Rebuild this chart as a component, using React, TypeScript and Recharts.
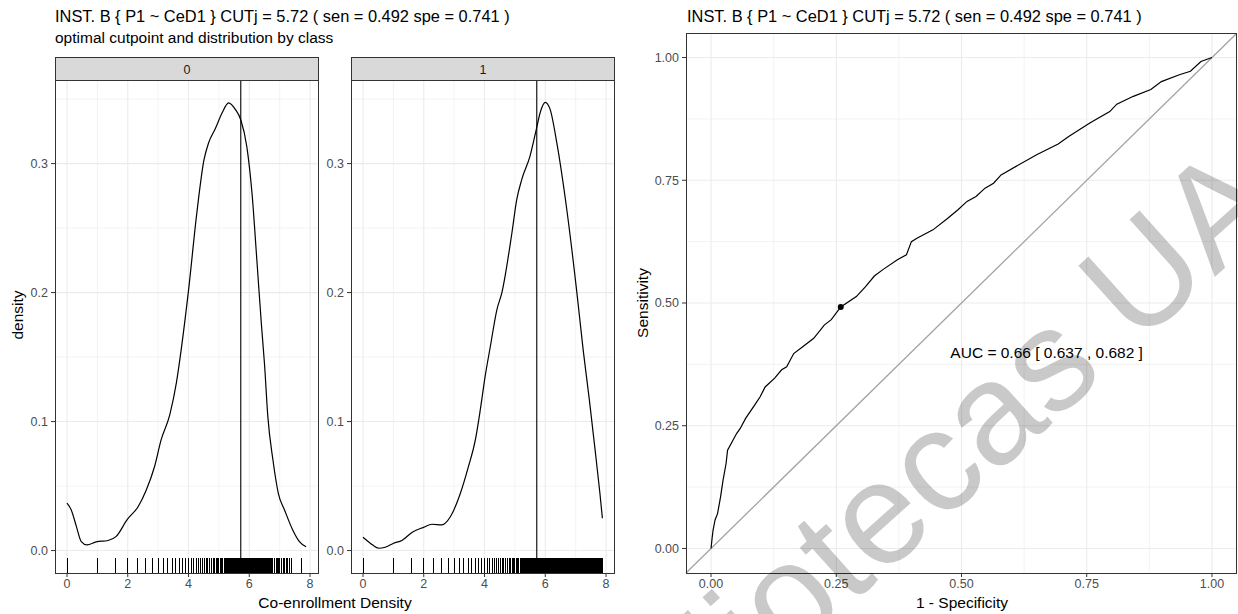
import React from 'react';
import { ComposedChart, Line, XAxis, YAxis, ReferenceLine, Scatter } from 'recharts';

const titleText = 'INST. B { P1 ~ CeD1 } CUTj = 5.72 ( sen = 0.492 spe = 0.741 )';
const subtitleText = 'optimal cutpoint and distribution by class';
const densityXTitle = 'Co-enrollment Density';
const densityYTitle = 'density';
const rocXTitle = '1 - Specificity';
const rocYTitle = 'Sensitivity';
const classLabels = ['0', '1'];
const cutpoint = 5.72;
const watermarkText = 'Bibliotecas UAC';

const densityXTicks = [0, 2, 4, 6, 8];
const densityXMinor = [1, 3, 5, 7];
const densityYTicks = [0, 0.1, 0.2, 0.3];
const densityYMinor = [0.05, 0.15, 0.25, 0.35];

// class 0 density curve
const dens0X = [0, 0.14, 0.31, 0.47, 0.66, 0.96, 1.35, 1.62, 1.98, 2.34, 2.61, 2.88, 3.1, 3.38, 3.6, 3.76, 4.0, 4.27, 4.51, 4.66, 4.88, 5.1, 5.32, 5.54, 5.72, 5.92, 6.09, 6.25, 6.4, 6.5, 6.61, 6.78, 6.96, 7.16, 7.43, 7.65, 7.87];
const dens0Y = [0.0367, 0.0315, 0.0186, 0.007, 0.0044, 0.0067, 0.0078, 0.011, 0.024, 0.034, 0.047, 0.065, 0.086, 0.105, 0.13, 0.156, 0.2017, 0.261, 0.303, 0.316, 0.327, 0.339, 0.347, 0.342, 0.334, 0.313, 0.277, 0.225, 0.175, 0.145, 0.104, 0.07, 0.044, 0.0315, 0.016, 0.007, 0.003];

// class 1 density curve
const dens1X = [0, 0.24, 0.52, 0.73, 1.01, 1.28, 1.61, 1.99, 2.27, 2.6, 2.87, 3.2, 3.47, 3.7, 3.86, 4.02, 4.19, 4.41, 4.57, 4.9, 5.06, 5.23, 5.5, 5.7, 5.85, 6.0, 6.16, 6.38, 6.71, 7.04, 7.25, 7.45, 7.64, 7.8, 7.88];
const dens1Y = [0.0103, 0.0057, 0.0018, 0.0026, 0.0057, 0.0078, 0.014, 0.018, 0.0204, 0.0199, 0.026, 0.044, 0.065, 0.086, 0.109, 0.135, 0.158, 0.187, 0.1998, 0.246, 0.272, 0.288, 0.306, 0.326, 0.341, 0.3475, 0.342, 0.316, 0.264, 0.2, 0.155, 0.117, 0.078, 0.044, 0.025];

// observed values (rug) shared by both classes up to ~6.6
const rugCommon = [0, 1, 1.58, 2, 2.32, 2.58, 2.81, 3, 3.17, 3.32, 3.46, 3.58, 3.7, 3.81, 3.91, 4, 4.09, 4.17, 4.25, 4.32, 4.39, 4.46, 4.52, 4.58, 4.64, 4.7, 4.75, 4.81, 4.86, 4.91, 4.95, 5, 5.04, 5.09, 5.13, 5.17, 5.21, 5.25, 5.29, 5.32, 5.36, 5.39, 5.43, 5.46, 5.49, 5.52, 5.55, 5.58, 5.61, 5.64, 5.67, 5.7, 5.73, 5.75, 5.78, 5.81, 5.83, 5.86, 5.88, 5.91, 5.93, 5.95, 5.98, 6, 6.02, 6.04, 6.07, 6.09, 6.11, 6.13, 6.15, 6.17, 6.19, 6.21, 6.23, 6.25, 6.27, 6.29, 6.3, 6.32, 6.34, 6.36, 6.38, 6.39, 6.41, 6.43, 6.44, 6.46, 6.48, 6.49, 6.51, 6.52, 6.54, 6.55, 6.57, 6.58, 6.6];
const rugTail0 = [6.63, 6.66, 6.7, 6.74, 6.78, 6.83, 6.88, 6.92, 6.97, 7.01, 7.05, 7.12, 7.16, 7.21, 7.27, 7.32, 7.38, 7.71];
const rugTail1 = [6.63, 6.66, 6.69, 6.72, 6.75, 6.78, 6.81, 6.84, 6.87, 6.9, 6.93, 6.95, 6.98, 7.01, 7.04, 7.07, 7.09, 7.12, 7.14, 7.17, 7.2, 7.22, 7.25, 7.27, 7.3, 7.32, 7.34, 7.37, 7.39, 7.41, 7.44, 7.46, 7.48, 7.5, 7.52, 7.55, 7.57, 7.59, 7.61, 7.63, 7.65, 7.67, 7.69, 7.71, 7.73, 7.75, 7.77, 7.79, 7.81, 7.83, 7.85, 7.88];

// ROC curve
const rocFpr = [0, 0.002, 0.004, 0.008, 0.013, 0.019, 0.024, 0.03, 0.033, 0.044, 0.051, 0.058, 0.069, 0.087, 0.098, 0.108, 0.127, 0.141, 0.151, 0.165, 0.183, 0.205, 0.226, 0.24, 0.259, 0.29, 0.308, 0.326, 0.343, 0.372, 0.39, 0.4, 0.411, 0.443, 0.472, 0.493, 0.511, 0.529, 0.547, 0.564, 0.579, 0.65, 0.693, 0.714, 0.757, 0.796, 0.81, 0.843, 0.878, 0.899, 0.935, 0.957, 0.978, 1.0];
const rocTpr = [0, 0.02, 0.037, 0.058, 0.071, 0.105, 0.139, 0.173, 0.2, 0.221, 0.234, 0.244, 0.265, 0.292, 0.309, 0.329, 0.347, 0.364, 0.37, 0.397, 0.411, 0.428, 0.455, 0.466, 0.492, 0.513, 0.533, 0.555, 0.568, 0.588, 0.598, 0.625, 0.632, 0.649, 0.672, 0.69, 0.707, 0.717, 0.734, 0.744, 0.761, 0.802, 0.824, 0.839, 0.867, 0.89, 0.905, 0.921, 0.935, 0.951, 0.965, 0.972, 0.992, 1.0];
const rocTicks = [0, 0.25, 0.5, 0.75, 1];
const rocMinor = [0.125, 0.375, 0.625, 0.875];
const cutFpr = 0.259;
const cutSen = 0.492;
const aucText = 'AUC = 0.66 [ 0.637 , 0.682 ]';
const aucX = 0.67;
const aucY = 0.4;

const FONT = '"Liberation Sans", Arial, Helvetica, sans-serif';
const DX: [number, number] = [-0.395, 8.295];
const DY: [number, number] = [-0.0174, 0.3648];
const RX: [number, number] = [-0.05, 1.05];
const GRID = '#EBEBEB';
const TICKC = '#4D4D4D';
const TICKFS = 12.5;

const RugTick = (p: any) => (
  <line x1={p.cx} x2={p.cx} y1={p.cy} y2={p.cy - 15} stroke="#000" strokeWidth={1} shapeRendering="crispEdges" />
);

const Dot = (p: any) => <circle cx={p.cx} cy={p.cy} r={3} fill="#000" />;

const AucLabel = (p: any) => (
  <text x={p.cx} y={p.cy} textAnchor="middle" dominantBaseline="central" fontSize={15.5} fill="#000" fontFamily={FONT}>
    {aucText}
  </text>
);

function DensityPanel({ xs, ys, rug, left, yw }: { xs: number[]; ys: number[]; rug: number[]; left: number; yw: number }) {
  const data = xs.map((x, i) => ({ x, y: ys[i] }));
  const rugData = rug.map((x) => ({ x, y: DY[0] }));
  return (
    <div style={{ position: 'absolute', left, top: 80 }}>
      <ComposedChart width={yw + 264} height={493 + 41} margin={{ top: 0, right: 0, bottom: 0, left: 0 }}>
        <XAxis type="number" dataKey="x" domain={DX} ticks={densityXTicks} allowDataOverflow height={41} axisLine={false}
          tickLine={{ stroke: '#333333' }} tickSize={4} tickMargin={2} tick={{ fill: TICKC, fontSize: TICKFS }} interval={0} />
        <YAxis type="number" dataKey="y" domain={DY} ticks={densityYTicks} allowDataOverflow width={yw} axisLine={false}
          tickLine={{ stroke: '#333333' }} tickSize={4} tickMargin={3} tick={{ fill: TICKC, fontSize: TICKFS }} interval={0}
          tickFormatter={(v: number) => v.toFixed(1)} />
        {densityXMinor.map((v) => <ReferenceLine key={'xm' + v} x={v} stroke={GRID} strokeWidth={0.6} />)}
        {densityYMinor.map((v) => <ReferenceLine key={'ym' + v} y={v} stroke={GRID} strokeWidth={0.6} />)}
        {densityXTicks.map((v) => <ReferenceLine key={'xM' + v} x={v} stroke={GRID} strokeWidth={1.1} />)}
        {densityYTicks.map((v) => <ReferenceLine key={'yM' + v} y={v} stroke={GRID} strokeWidth={1.1} />)}
        <Line data={data} dataKey="y" type="monotone" dot={false} stroke="#000" strokeWidth={1.2} isAnimationActive={false} />
        <Scatter data={rugData} dataKey="y" shape={RugTick} isAnimationActive={false} />
        <ReferenceLine x={cutpoint} stroke="#000" strokeWidth={1.1} />
      </ComposedChart>
    </div>
  );
}

function Box({ left, top, width, height, bg }: { left: number; top: number; width: number; height: number; bg?: string }) {
  return (
    <div style={{ position: 'absolute', left, top, width, height, boxSizing: 'border-box', border: '1px solid #333333', background: bg || 'transparent', pointerEvents: 'none' }} />
  );
}

export default function App() {
  const rocData = rocFpr.map((x, i) => ({ x, y: rocTpr[i] }));
  return (
    <div style={{ position: 'absolute', left: 0, top: 0, width: 1238, height: 614, background: '#fff', fontFamily: FONT, overflow: 'hidden' }}>
      <DensityPanel xs={dens0X} ys={dens0Y} rug={[...rugCommon, ...rugTail0]} left={0} yw={55} />
      <DensityPanel xs={dens1X} ys={dens1Y} rug={[...rugCommon, ...rugTail1]} left={316} yw={35} />
      <Box left={55} top={80} width={264} height={494} />
      <Box left={351} top={80} width={264} height={494} />
      <Box left={55} top={57} width={264} height={24} bg="#D9D9D9" />
      <Box left={351} top={57} width={264} height={24} bg="#D9D9D9" />

      <div style={{ position: 'absolute', left: 636, top: 33 }}>
        <ComposedChart width={50 + 551} height={540 + 41} margin={{ top: 0, right: 0, bottom: 0, left: 0 }}>
          <XAxis type="number" dataKey="x" domain={RX} ticks={rocTicks} allowDataOverflow height={41} axisLine={false}
            tickLine={{ stroke: '#333333' }} tickSize={4} tickMargin={2} tick={{ fill: TICKC, fontSize: TICKFS }} interval={0}
            tickFormatter={(v: number) => v.toFixed(2)} />
          <YAxis type="number" dataKey="y" domain={RX} ticks={rocTicks} allowDataOverflow width={50} axisLine={false}
            tickLine={{ stroke: '#333333' }} tickSize={4} tickMargin={3} tick={{ fill: TICKC, fontSize: TICKFS }} interval={0}
            tickFormatter={(v: number) => v.toFixed(2)} />
          {rocMinor.map((v) => <ReferenceLine key={'rxm' + v} x={v} stroke={GRID} strokeWidth={0.6} />)}
          {rocMinor.map((v) => <ReferenceLine key={'rym' + v} y={v} stroke={GRID} strokeWidth={0.6} />)}
          {rocTicks.map((v) => <ReferenceLine key={'rxM' + v} x={v} stroke={GRID} strokeWidth={1.1} />)}
          {rocTicks.map((v) => <ReferenceLine key={'ryM' + v} y={v} stroke={GRID} strokeWidth={1.1} />)}
          <ReferenceLine segment={[{ x: RX[0], y: RX[0] }, { x: RX[1], y: RX[1] }]} stroke="#A3A3A3" strokeWidth={1.3} ifOverflow="visible" />
          <Line data={rocData} dataKey="y" type="linear" dot={false} stroke="#000" strokeWidth={1.2} isAnimationActive={false} />
          <Scatter data={[{ x: cutFpr, y: cutSen }]} dataKey="y" shape={Dot} isAnimationActive={false} />
          <Scatter data={[{ x: aucX, y: aucY }]} dataKey="y" shape={AucLabel} isAnimationActive={false} />
        </ComposedChart>
      </div>
      <Box left={686} top={33} width={551} height={541} />

      <svg width={1238} height={614} style={{ position: 'absolute', left: 0, top: 0, pointerEvents: 'none' }} fontFamily={FONT}>
        <text x={55} y={21.7} fontSize={16.4} fill="#000">{titleText}</text>
        <text x={55} y={43.3} fontSize={15.5} fill="#000">{subtitleText}</text>
        <text x={687} y={21.7} fontSize={16.4} fill="#000">{titleText}</text>
        <text x={187} y={73.5} fontSize={12.5} fill="#1A1A1A" textAnchor="middle">{classLabels[0]}</text>
        <text x={483} y={73.5} fontSize={12.5} fill="#1A1A1A" textAnchor="middle">{classLabels[1]}</text>
        <text x={335} y={608} fontSize={15.5} fill="#000" textAnchor="middle">{densityXTitle}</text>
        <text x={962} y={608} fontSize={15.5} fill="#000" textAnchor="middle">{rocXTitle}</text>
        <text x={23} y={315} fontSize={15.5} fill="#000" textAnchor="middle" transform="rotate(-90 23 315)">{densityYTitle}</text>
        <text x={648} y={303} fontSize={15.5} fill="#000" textAnchor="middle" transform="rotate(-90 648 303)">{rocYTitle}</text>
        <text x={975} y={493} fontSize={145} fill="#000" fillOpacity={0.21} textAnchor="middle" transform="rotate(-42 975 493)">{watermarkText}</text>
      </svg>
    </div>
  );
}
